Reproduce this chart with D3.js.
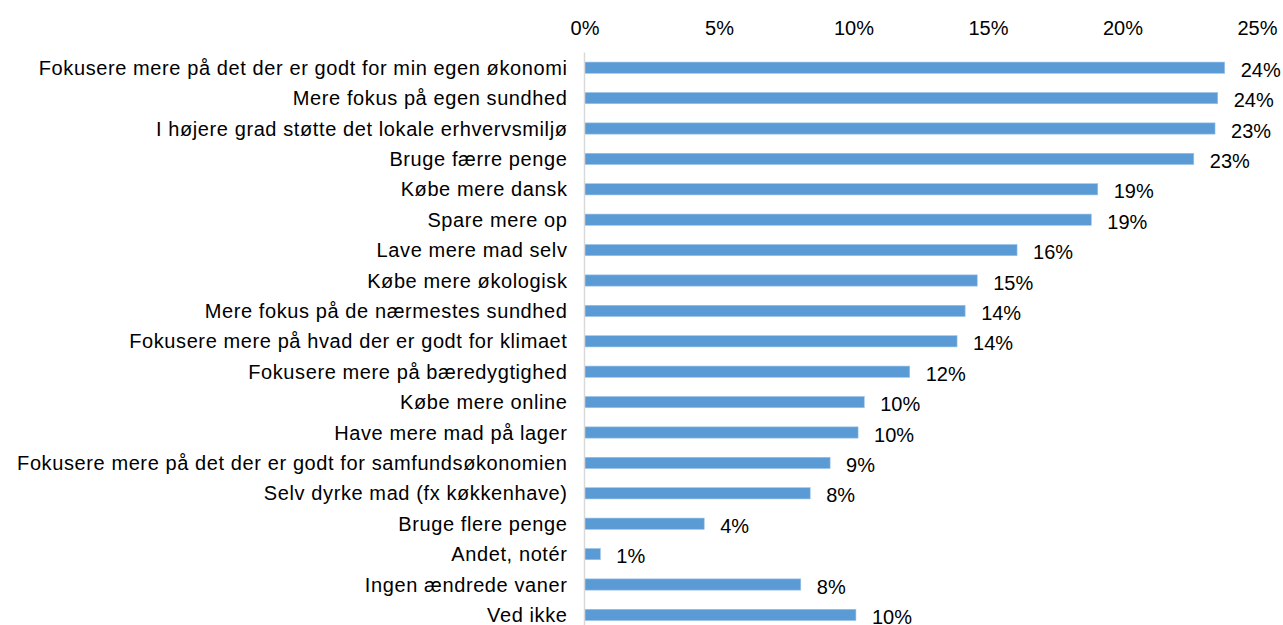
<!DOCTYPE html>
<html>
<head>
<meta charset="utf-8" />
<title>Ændrede vaner</title>
<script src="https://d3js.org/d3.v7.min.js"></script>
<style>
  body { margin: 0; background: #fff; }
  text { font-family: Arial, "Liberation Sans", sans-serif; fill: #000; }
</style>
</head>
<body>
<script>
// data
var categories = [
  "Fokusere mere på det der er godt for min egen økonomi",
  "Mere fokus på egen sundhed",
  "I højere grad støtte det lokale erhvervsmiljø",
  "Bruge færre penge",
  "Købe mere dansk",
  "Spare mere op",
  "Lave mere mad selv",
  "Købe mere økologisk",
  "Mere fokus på de nærmestes sundhed",
  "Fokusere mere på hvad der er godt for klimaet",
  "Fokusere mere på bæredygtighed",
  "Købe mere online",
  "Have mere mad på lager",
  "Fokusere mere på det der er godt for samfundsøkonomien",
  "Selv dyrke mad (fx køkkenhave)",
  "Bruge flere penge",
  "Andet, notér",
  "Ingen ændrede vaner",
  "Ved ikke"
];
var values = [23.8, 23.54, 23.44, 22.65, 19.08, 18.84, 16.08, 14.6, 14.15, 13.85,
              12.09, 10.4, 10.17, 9.13, 8.39, 4.45, 0.59, 8.04, 10.09];
var labels = ["24%", "24%", "23%", "23%", "19%", "19%", "16%", "15%", "14%", "14%",
              "12%", "10%", "10%", "9%", "8%", "4%", "1%", "8%", "10%"];
var ticks = [0, 5, 10, 15, 20, 25];

var W = 1283, H = 625;
var plotLeft = 584.5, plotRight = 1257, plotTop = 52.5;
var step = 30.4;
var fs = 20;

var svg = d3.select("body").append("svg")
  .attr("width", W).attr("height", H);

var x = d3.scaleLinear().domain([0, 25]).range([plotLeft, plotRight]);
var y = d3.scaleBand().domain(categories)
  .range([plotTop, plotTop + step * categories.length])
  .paddingInner(0.63).paddingOuter(0.315);

// top axis labels
svg.append("g")
  .attr("transform", "translate(0,34.5)")
  .call(d3.axisTop(x).tickValues(ticks).tickFormat(function(d) { return d + "%"; }).tickSize(0).tickPadding(0))
  .call(function(g) {
    g.select(".domain").remove();
    g.selectAll("text").attr("font-size", fs).attr("font-family", "Arial, 'Liberation Sans', sans-serif").attr("fill", "#000");
  });

// bars
svg.append("g").selectAll("rect")
  .data(values)
  .enter().append("rect")
  .attr("x", x(0))
  .attr("y", function(d, i) { return y(categories[i]); })
  .attr("width", function(d) { return x(d) - x(0); })
  .attr("height", y.bandwidth())
  .attr("fill", "#5b9bd5")
  .attr("stroke", "#9dc3e6")
  .attr("stroke-width", 0.6);

// vertical axis line
svg.append("line")
  .attr("x1", x(0)).attr("x2", x(0))
  .attr("y1", plotTop).attr("y2", H)
  .attr("stroke", "#d9d9d9").attr("stroke-width", 1.5);

// category labels
svg.append("g").selectAll("text")
  .data(categories)
  .enter().append("text")
  .attr("x", x(0) - 17)
  .attr("y", function(d) { return y(d) + y.bandwidth() / 2; })
  .attr("dy", "0.35em")
  .attr("text-anchor", "end")
  .attr("font-size", fs)
  .attr("letter-spacing", 0.6)
  .text(function(d) { return d; });

// value labels
svg.append("g").selectAll("text")
  .data(values)
  .enter().append("text")
  .attr("x", function(d) { return x(d) + 16; })
  .attr("y", function(d, i) { return y(categories[i]) + y.bandwidth() / 2 + 2; })
  .attr("dy", "0.35em")
  .attr("font-size", fs)
  .text(function(d, i) { return labels[i]; });
</script>
</body>
</html>
